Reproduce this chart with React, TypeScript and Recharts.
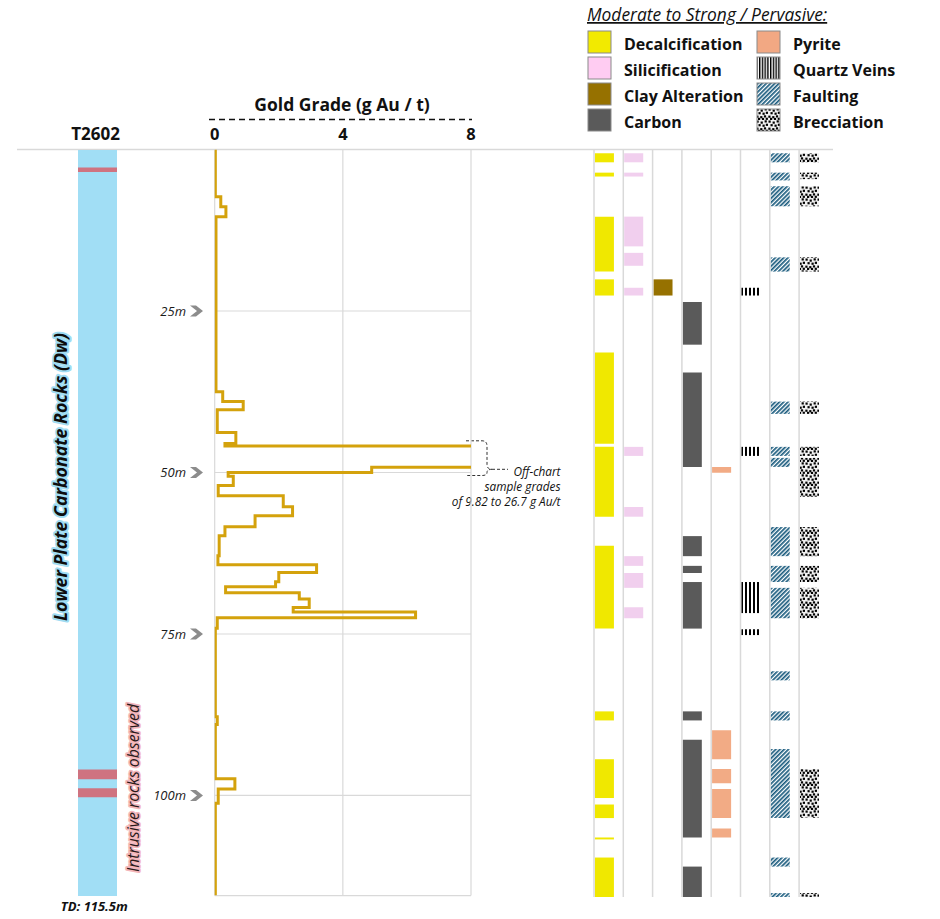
import React from "react";
import {
  ComposedChart,
  Line,
  XAxis,
  YAxis,
  CartesianGrid,
  ReferenceArea,
  ReferenceLine,
} from "recharts";

const FONT = "'Open Sans', 'Noto Sans', sans-serif";
const GOLD = "#d4a20c";
const GRID = "#d9d9d9";

const TOTAL_DEPTH = 115.5;
const depthTicks = [25, 50, 75, 100];
const gradeTicks = [0, 4, 8];

// assay interval boundaries (m) and the grade of each interval (g Au / t)
const goldDepths = [
  0, 7.3, 8.85, 10.4, 37.5, 39.0, 40.3, 43.8, 45.5, 45.9, 47.4, 49.2, 50.0, 50.6, 52.0, 53.6,
  55.3, 56.7, 58.4, 59.8, 62.9, 64.3, 65.5, 66.9, 67.7, 68.6, 69.6, 70.9, 71.6, 72.5, 74.1,
  87.8, 89.0, 97.4, 99.0, 101.2, 115.5,
];
const goldGrades = [
  0.02, 0.19, 0.35, 0.04, 0.25, 0.89, 0.08, 0.66, 0.32, 26.7, 9.82, 4.9, 0.42, 0.58, 0.11,
  2.14, 2.43, 1.26, 0.32, 0.14, 0.1, 3.18, 2.0, 1.9, 0.34, 2.64, 2.95, 2.45, 6.27, 0.08, 0.02,
  0.08, 0.02, 0.63, 0.11, 0.02,
];

// lithology (from, to in m)
const holeName = "T2602";
const carbonateRocks = [[0, 115.5]];
const intrusiveRocks = [[2.7, 3.4], [95.9, 97.4], [98.8, 100.2]];

// alteration intervals (from, to in m)
const decalcification = [
  [0.5, 1.9], [3.5, 4.1], [10.3, 18.8], [20.0, 22.5], [31.3, 45.4], [45.9, 56.7], [61.2, 74.0],
  [86.8, 88.2], [94.2, 100.2], [101.2, 103.3], [106.3, 106.6], [109.4, 115.5],
];
const silicification = [
  [0.5, 1.9], [3.5, 4.1], [10.3, 14.9], [15.9, 17.9], [21.3, 22.5], [45.9, 47.3], [55.2, 56.7],
  [62.8, 64.3], [65.4, 67.7], [70.7, 72.4],
];
const clayAlteration = [[20.0, 22.5]];
const carbon = [
  [23.5, 30.1], [34.4, 49.0], [59.7, 62.8], [64.3, 65.4], [66.8, 74.0], [86.8, 88.2],
  [91.2, 106.3], [110.8, 115.5],
];
const pyrite = [[49.0, 49.9], [89.7, 94.2], [95.7, 97.9], [98.8, 103.3], [104.9, 106.3]];
const quartzVeins = [[21.3, 22.5], [45.9, 47.3], [66.8, 71.6], [74.1, 75.0]];
const faulting = [
  [0.5, 1.9], [3.5, 4.7], [5.6, 8.7], [16.6, 18.8], [38.9, 40.8], [45.9, 47.3], [47.6, 49.0],
  [58.3, 62.8], [64.3, 66.8], [67.7, 72.4], [80.6, 82.0], [86.8, 88.2], [92.6, 103.3],
  [109.4, 110.8], [114.9, 115.5],
];
const brecciation = [
  [0.5, 1.9], [3.5, 4.5], [5.6, 8.7], [16.6, 18.8], [38.9, 40.8], [45.9, 47.3], [47.6, 53.6],
  [58.3, 62.8], [64.3, 66.8], [67.7, 72.4], [95.7, 103.3], [114.9, 115.5],
];

const columns = [
  { name: "Decalcification", intervals: decalcification, fill: "#f0e800", swatch: "#f2ea00" },
  { name: "Silicification", intervals: silicification, fill: "#f1cfee", swatch: "#ffccf2" },
  { name: "Clay Alteration", intervals: clayAlteration, fill: "#967100", swatch: "#967100" },
  { name: "Carbon", intervals: carbon, fill: "#5a5a5a", swatch: "#5a5a5a" },
  { name: "Pyrite", intervals: pyrite, fill: "#f2ab85", swatch: "#f2a883" },
  { name: "Quartz Veins", intervals: quartzVeins, fill: "url(#pat-quartz)", swatch: "url(#pat-quartz-legend)" },
  { name: "Faulting", intervals: faulting, fill: "url(#pat-fault)", swatch: "url(#pat-fault)" },
  { name: "Brecciation", intervals: brecciation, fill: "url(#pat-breccia)", swatch: "url(#pat-breccia)" },
];

const goldRows = goldGrades.flatMap((g, i) => [
  { depth: goldDepths[i], grade: g },
  { depth: goldDepths[i + 1], grade: g },
]);
const holeRows = [{ col: 0.5, hole: holeName }];
const columnRows = columns.map((c, i) => ({ col: i, name: c.name }));

const brecciaDots = [
  [0.5, 0.5], [4.6, 1.5], [8.6, 0.3], [2.5, 4.1], [6.5, 4.6], [9.8, 3.7], [0.3, 7.6], [4.2, 8.1],
  [7.9, 7.3], [9.7, 9.7], [2, 9.8], [5.9, 9.9],
];

function GradeTick({ x, y, payload }: any) {
  return (
    <text x={x} y={y - 9.5} textAnchor="middle" fontFamily={FONT} fontWeight={700} fontSize={16.5} fill="#111">
      {payload.value}
    </text>
  );
}

function DepthTick({ x, y, payload }: any) {
  return (
    <g>
      <text x={x - 28.7} y={y + 4.7} textAnchor="end" fontFamily={FONT} fontStyle="italic" fontSize={13} fill="#1a1a1a">
        {payload.value}m
      </text>
      <path d={`M${x - 24.7},${y - 5.5} h6 l7,5.5 l-7,5.5 h-6 l7,-5.5 z`} fill="#8c8c8c" />
    </g>
  );
}

function Overlay() {
  return (
    <svg width={940} height={919} style={{ position: "absolute", left: 0, top: 0 }}>
      <defs>
        <pattern id="pat-quartz" width={4} height={4} patternUnits="userSpaceOnUse">
          <rect width={4} height={4} fill="#fff" />
          <rect width={2} height={4} fill="#000" />
        </pattern>
        <pattern id="pat-quartz-legend" width={2.75} height={4} patternUnits="userSpaceOnUse">
          <rect width={2.75} height={4} fill="#fff" />
          <rect width={1.4} height={4} fill="#000" />
        </pattern>
        <pattern id="pat-fault" width={3} height={4} patternUnits="userSpaceOnUse" patternTransform="rotate(45)">
          <rect width={3} height={4} fill="#fff" />
          <rect width={1.7} height={4} fill="#1a5b7e" />
        </pattern>
        <pattern id="pat-breccia" width={12} height={12} patternUnits="userSpaceOnUse">
          <rect width={12} height={12} fill="#f2f2f2" />
          {brecciaDots.map(([dx, dy], i) => (
            <rect key={i} x={dx} y={dy} width={2.2} height={2.2} fill="#000" />
          ))}
        </pattern>
      </defs>

      <line x1={17} x2={833} y1={149.5} y2={149.5} stroke={GRID} strokeWidth={1.5} />

      <text x={342} y={111} textAnchor="middle" fontFamily={FONT} fontWeight={700} fontSize={17.5} fill="#111">
        Gold Grade (g Au / t)
      </text>
      <line x1={209} x2={472} y1={119.5} y2={119.5} stroke="#111" strokeWidth={1.6} strokeDasharray="6 4" />
      <text x={95.5} y={140} textAnchor="middle" fontFamily={FONT} fontWeight={700} fontSize={17} fill="#111">
        {holeName}
      </text>

      <text
        x={60}
        y={477}
        transform="rotate(-90 60 477)"
        textAnchor="middle"
        dominantBaseline="central"
        fontFamily={FONT}
        fontWeight={700}
        fontStyle="italic"
        fontSize={17.8}
        fill="#0d0d0d"
        stroke="#9fdcf3"
        strokeWidth={4}
        strokeLinejoin="round"
        style={{ paintOrder: "stroke" }}
      >
        Lower Plate Carbonate Rocks (Dw)
      </text>
      <text
        x={132.5}
        y={788}
        transform="rotate(-90 132.5 788)"
        textAnchor="middle"
        dominantBaseline="central"
        fontFamily={FONT}
        fontStyle="italic"
        fontSize={15.8}
        fill="#2a1a1a"
        stroke="#f3b6bb"
        strokeWidth={3.5}
        strokeLinejoin="round"
        style={{ paintOrder: "stroke" }}
      >
        Intrusive rocks observed
      </text>
      <text x={94.3} y={911} textAnchor="middle" fontFamily={FONT} fontWeight={700} fontStyle="italic" fontSize={13} fill="#111">
        TD: 115.5m
      </text>

      <path
        d="M466,440.8 H482 Q487,440.8 487,446 V464.5 Q487,469.3 492,469.3 Q487,469.3 487,472.5 Q487,475.5 482,475.5 H466 M492,469.3 H508"
        fill="none"
        stroke="#333"
        strokeWidth={1}
        strokeDasharray="3 2"
      />
      {["Off-chart", "sample grades", "of 9.82 to 26.7 g Au/t"].map((t, i) => (
        <text key={t} x={560.5} y={476 + i * 15} textAnchor="end" fontFamily={FONT} fontStyle="italic" fontSize={11.8} fill="#111">
          {t}
        </text>
      ))}

      <text x={587} y={21} fontFamily={FONT} fontStyle="italic" fontSize={17.4} fill="#111" style={{ textDecoration: "underline" }}>
        Moderate to Strong / Pervasive:
      </text>
      {columns.map((c, i) => {
        const sx = i < 4 ? 588 : 757;
        const sy = 31 + (i % 4) * 26;
        return (
          <g key={c.name}>
            <rect x={sx} y={sy} width={23} height={22} fill={c.swatch} stroke="#8a8a8a" strokeWidth={1} />
            <text x={sx + 36} y={sy + 18.5} fontFamily={FONT} fontWeight={700} fontSize={16} fill="#111">
              {c.name}
            </text>
          </g>
        );
      })}
    </svg>
  );
}

export default function App() {
  return (
    <div style={{ position: "absolute", left: 0, top: 0, width: 940, height: 919, background: "#fff" }}>
      <Overlay />

      {/* drill hole lithology */}
      <div style={{ position: "absolute", left: 78, top: 149.5 }}>
        <ComposedChart width={39} height={746.1} data={holeRows} margin={{ top: 0, right: 0, bottom: 0, left: 0 }}>
          <XAxis type="number" dataKey="col" hide domain={[0, 1]} allowDataOverflow />
          <YAxis type="number" hide reversed domain={[0, TOTAL_DEPTH]} allowDataOverflow />
          {carbonateRocks.map(([a, b], i) => (
            <ReferenceArea key={`c${i}`} x1={0} x2={1} y1={a} y2={b} fill="#a1def5" fillOpacity={1} stroke="none" ifOverflow="visible" />
          ))}
          {intrusiveRocks.map(([a, b], i) => (
            <ReferenceArea key={`r${i}`} x1={0} x2={1} y1={a} y2={b} fill="#cf7380" fillOpacity={1} stroke="none" ifOverflow="visible" />
          ))}
        </ComposedChart>
      </div>

      {/* gold grade */}
      <div style={{ position: "absolute", left: 140, top: 100 }}>
        <ComposedChart
          width={341}
          height={800.6}
          data={goldRows}
          layout="vertical"
          margin={{ top: 19.5, right: 10, bottom: 5, left: 14.7 }}
        >
          <CartesianGrid stroke={GRID} strokeWidth={1.2} />
          <XAxis
            type="number"
            orientation="top"
            domain={[0, 8]}
            ticks={gradeTicks}
            interval={0}
            allowDataOverflow
            axisLine={false}
            tickLine={false}
            tickSize={0}
            tickMargin={0}
            height={30}
            tick={<GradeTick />}
          />
          <YAxis
            type="number"
            dataKey="depth"
            domain={[0, TOTAL_DEPTH]}
            ticks={depthTicks}
            interval={0}
            allowDataOverflow
            axisLine={false}
            tickLine={false}
            tickSize={0}
            tickMargin={0}
            width={60}
            tick={<DepthTick />}
          />
          <Line type="linear" dataKey="grade" stroke={GOLD} strokeWidth={3} dot={false} isAnimationActive={false} />
        </ComposedChart>
      </div>

      {/* alteration columns */}
      <div style={{ position: "absolute", left: 589, top: 149.5 }}>
        <ComposedChart
          width={244.4}
          height={747}
          data={columnRows}
          margin={{ top: 0, right: 5, bottom: 0, left: 5 }}
        >
          <XAxis type="number" dataKey="col" hide domain={[0, 8]} allowDataOverflow />
          <YAxis type="number" hide reversed domain={[0, TOTAL_DEPTH]} allowDataOverflow />
          {columns.map((c, i) => (
            <ReferenceLine key={`l${i}`} x={i} stroke={GRID} strokeWidth={1.5} ifOverflow="visible" />
          ))}
          {columns.flatMap((c, i) =>
            c.intervals.map(([a, b], k) => (
              <ReferenceArea
                key={`${c.name}-${k}`}
                x1={i + 0.03}
                x2={i + 0.68}
                y1={a}
                y2={b}
                fill={c.fill}
                fillOpacity={1}
                stroke="none"
                ifOverflow="visible"
              />
            ))
          )}
        </ComposedChart>
      </div>
    </div>
  );
}
